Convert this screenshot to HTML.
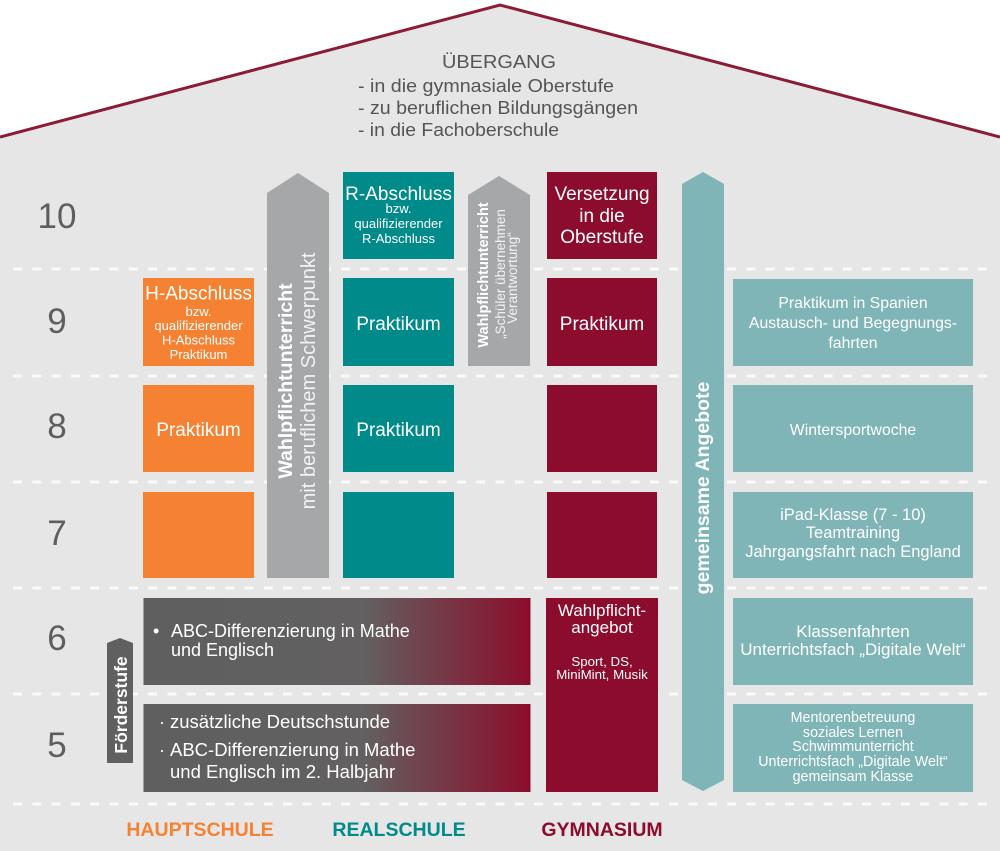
<!DOCTYPE html>
<html><head><meta charset="utf-8"><style>
html,body{margin:0;padding:0;background:#fff;}
svg{display:block;}
text{font-family:"Liberation Sans",Arial,sans-serif;}
</style></head><body>
<svg width="1000" height="851" viewBox="0 0 1000 851" xmlns="http://www.w3.org/2000/svg">
<defs>
<linearGradient id="gr" x1="0" y1="0" x2="1" y2="0">
<stop offset="0" stop-color="#5f5f5f"/>
<stop offset="0.57" stop-color="#626060"/>
<stop offset="1" stop-color="#8b0d2b"/>
</linearGradient>
</defs>
<rect width="1000" height="851" fill="#fff"/>
<polygon points="0,137 500,5 1000,137 1000,851 0,851" fill="#e6e6e6"/>
<polyline points="0,137 500,5 1000,137" fill="none" stroke="#8c1c36" stroke-width="3"/>

<text x="499" y="68" text-anchor="middle" font-size="18" fill="#555" textLength="114" lengthAdjust="spacingAndGlyphs">ÜBERGANG</text>
<text x="358" y="92" font-size="18" fill="#555" textLength="256" lengthAdjust="spacingAndGlyphs">- in die gymnasiale Oberstufe</text>
<text x="358" y="114" font-size="18" fill="#555" textLength="280" lengthAdjust="spacingAndGlyphs">- zu beruflichen Bildungsgängen</text>
<text x="358" y="136" font-size="18" fill="#555" textLength="201" lengthAdjust="spacingAndGlyphs">- in die Fachoberschule</text>

<g stroke="#fafafa" stroke-width="3" stroke-dasharray="9 10.3">
<line x1="13" y1="269" x2="987" y2="269"/>
<line x1="13" y1="376" x2="987" y2="376"/>
<line x1="13" y1="482" x2="987" y2="482"/>
<line x1="13" y1="588" x2="987" y2="588"/>
<line x1="13" y1="694" x2="987" y2="694"/>
<line x1="13" y1="804" x2="987" y2="804"/>
</g>

<g font-size="35" fill="#5e5e5e" text-anchor="middle">
<text x="57" y="228">10</text>
<text x="57" y="333">9</text>
<text x="57" y="438">8</text>
<text x="57" y="545">7</text>
<text x="57" y="650">6</text>
<text x="57" y="757">5</text>
</g>

<!-- Hauptschule -->
<rect x="143" y="278" width="111" height="88" fill="#f58233"/>
<rect x="143" y="385" width="111" height="87" fill="#f58233"/>
<rect x="143" y="492" width="111" height="86" fill="#f58233"/>
<g fill="#fff" text-anchor="middle">
<text x="198.5" y="299.5" font-size="19">H-Abschluss</text>
<text x="198.5" y="316" font-size="13">bzw.</text>
<text x="198.5" y="330" font-size="13">qualifizierender</text>
<text x="198.5" y="344.5" font-size="13">H-Abschluss</text>
<text x="198.5" y="359" font-size="13">Praktikum</text>
<text x="198.5" y="436" font-size="19">Praktikum</text>
</g>

<!-- big gray arrow -->
<polygon points="267,193 298,173 329,193 329,578 267,578" fill="#a6a7a9"/>
<text transform="translate(292,381) rotate(-90)" text-anchor="middle" font-size="19.5" font-weight="bold" fill="#fff">Wahlpflichtunterricht</text>
<text transform="translate(315,381) rotate(-90)" text-anchor="middle" font-size="20" fill="#f2f2f2">mit beruflichem Schwerpunkt</text>

<!-- Realschule -->
<rect x="343" y="172" width="111" height="87" fill="#008a8a"/>
<rect x="343" y="278" width="111" height="88" fill="#008a8a"/>
<rect x="343" y="385" width="111" height="87" fill="#008a8a"/>
<rect x="343" y="492" width="111" height="86" fill="#008a8a"/>
<g fill="#fff" text-anchor="middle">
<text x="398.5" y="200" font-size="19">R-Abschluss</text>
<text x="398.5" y="213" font-size="13">bzw.</text>
<text x="398.5" y="228" font-size="13">qualifizierender</text>
<text x="398.5" y="243" font-size="13">R-Abschluss</text>
<text x="398.5" y="330" font-size="19">Praktikum</text>
<text x="398.5" y="436" font-size="19">Praktikum</text>
</g>

<!-- small gray arrow -->
<polygon points="468,195 499,176 530,195 530,366 468,366" fill="#a6a7a9"/>
<text transform="translate(488,275) rotate(-90)" text-anchor="middle" font-size="14.5" font-weight="bold" fill="#fff">Wahlpflichtunterricht</text>
<text transform="translate(505,274) rotate(-90)" text-anchor="middle" font-size="13.5" fill="#f2f2f2">„Schüler übernehmen</text>
<text transform="translate(517,278) rotate(-90)" text-anchor="middle" font-size="13.5" fill="#f2f2f2">Verantwortung“</text>

<!-- Gymnasium -->
<rect x="547" y="172" width="110" height="87" fill="#8b0c2c"/>
<rect x="547" y="278" width="110" height="88" fill="#8b0c2c"/>
<rect x="547" y="385" width="110" height="87" fill="#8b0c2c"/>
<rect x="547" y="492" width="110" height="86" fill="#8b0c2c"/>
<rect x="546" y="598" width="112" height="194" fill="#8b0c2c"/>
<g fill="#fff" text-anchor="middle">
<text x="602" y="200" font-size="19">Versetzung</text>
<text x="602" y="222" font-size="19">in die</text>
<text x="602" y="243" font-size="19">Oberstufe</text>
<text x="602" y="330" font-size="19">Praktikum</text>
<text x="602" y="616" font-size="17">Wahlpflicht-</text>
<text x="602" y="633" font-size="17">angebot</text>
<text x="602" y="666" font-size="13.3">Sport, DS,</text>
<text x="602" y="679" font-size="13.3">MiniMint, Musik</text>
</g>

<!-- gradient rows -->
<rect x="143.5" y="598" width="387" height="87" fill="url(#gr)"/>
<rect x="143.5" y="704" width="387" height="88" fill="url(#gr)"/>
<g fill="#fff">
<text x="153" y="637" font-size="18">•</text>
<text x="171" y="637" font-size="18">ABC-Differenzierung in Mathe</text>
<text x="171" y="656" font-size="18">und Englisch</text>
<text x="159" y="728" font-size="18">·</text>
<text x="170" y="728" font-size="18.5">zusätzliche Deutschstunde</text>
<text x="159" y="756" font-size="18">·</text>
<text x="170" y="756" font-size="18.5">ABC-Differenzierung in Mathe</text>
<text x="170" y="778" font-size="18.5">und Englisch im 2. Halbjahr</text>
</g>

<!-- Förderstufe -->
<polygon points="107,643 120,638 133,643 133,763 107,763" fill="#606060"/>
<text transform="translate(127,705) rotate(-90)" text-anchor="middle" font-size="17.5" font-weight="bold" fill="#fff">Förderstufe</text>

<!-- gemeinsame Angebote arrow -->
<polygon points="682,184 703,172 724,184 724,780 703,791 682,780" fill="#7fb5b6"/>
<text transform="translate(709,488) rotate(-90)" text-anchor="middle" font-size="19.5" font-weight="bold" fill="#fff">gemeinsame Angebote</text>

<!-- right boxes -->
<rect x="733" y="279" width="240" height="87" fill="#7fb5b6"/>
<rect x="733" y="385" width="240" height="87" fill="#7fb5b6"/>
<rect x="733" y="492" width="240" height="86" fill="#7fb5b6"/>
<rect x="733" y="598" width="240" height="87" fill="#7fb5b6"/>
<rect x="733" y="704" width="240" height="88" fill="#7fb5b6"/>
<g fill="#fff" text-anchor="middle">
<text x="853" y="308" font-size="15.8">Praktikum in Spanien</text>
<text x="853" y="328" font-size="15.8">Austausch- und Begegnungs-</text>
<text x="853" y="348" font-size="15.8">fahrten</text>
<text x="853" y="435" font-size="15.8">Wintersportwoche</text>
<text x="853" y="520" font-size="16.5">iPad-Klasse (7 - 10)</text>
<text x="853" y="538" font-size="16.5">Teamtraining</text>
<text x="853" y="557" font-size="16.5">Jahrgangsfahrt nach England</text>
<text x="853" y="637" font-size="17">Klassenfahrten</text>
<text x="853" y="655" font-size="17">Unterrichtsfach „Digitale Welt“</text>
<text x="853" y="722" font-size="14.3">Mentorenbetreuung</text>
<text x="853" y="737" font-size="14.3">soziales Lernen</text>
<text x="853" y="751" font-size="14.3">Schwimmunterricht</text>
<text x="853" y="766" font-size="14.3">Unterrichtsfach „Digitale Welt“</text>
<text x="853" y="781" font-size="14.3">gemeinsam Klasse</text>
</g>

<!-- bottom labels -->
<g font-size="19.5" font-weight="bold" text-anchor="middle">
<text x="200" y="836" fill="#f58233">HAUPTSCHULE</text>
<text x="399" y="836" fill="#008a8a">REALSCHULE</text>
<text x="602" y="836" fill="#8b0c2c">GYMNASIUM</text>
</g>
</svg>
</body></html>
